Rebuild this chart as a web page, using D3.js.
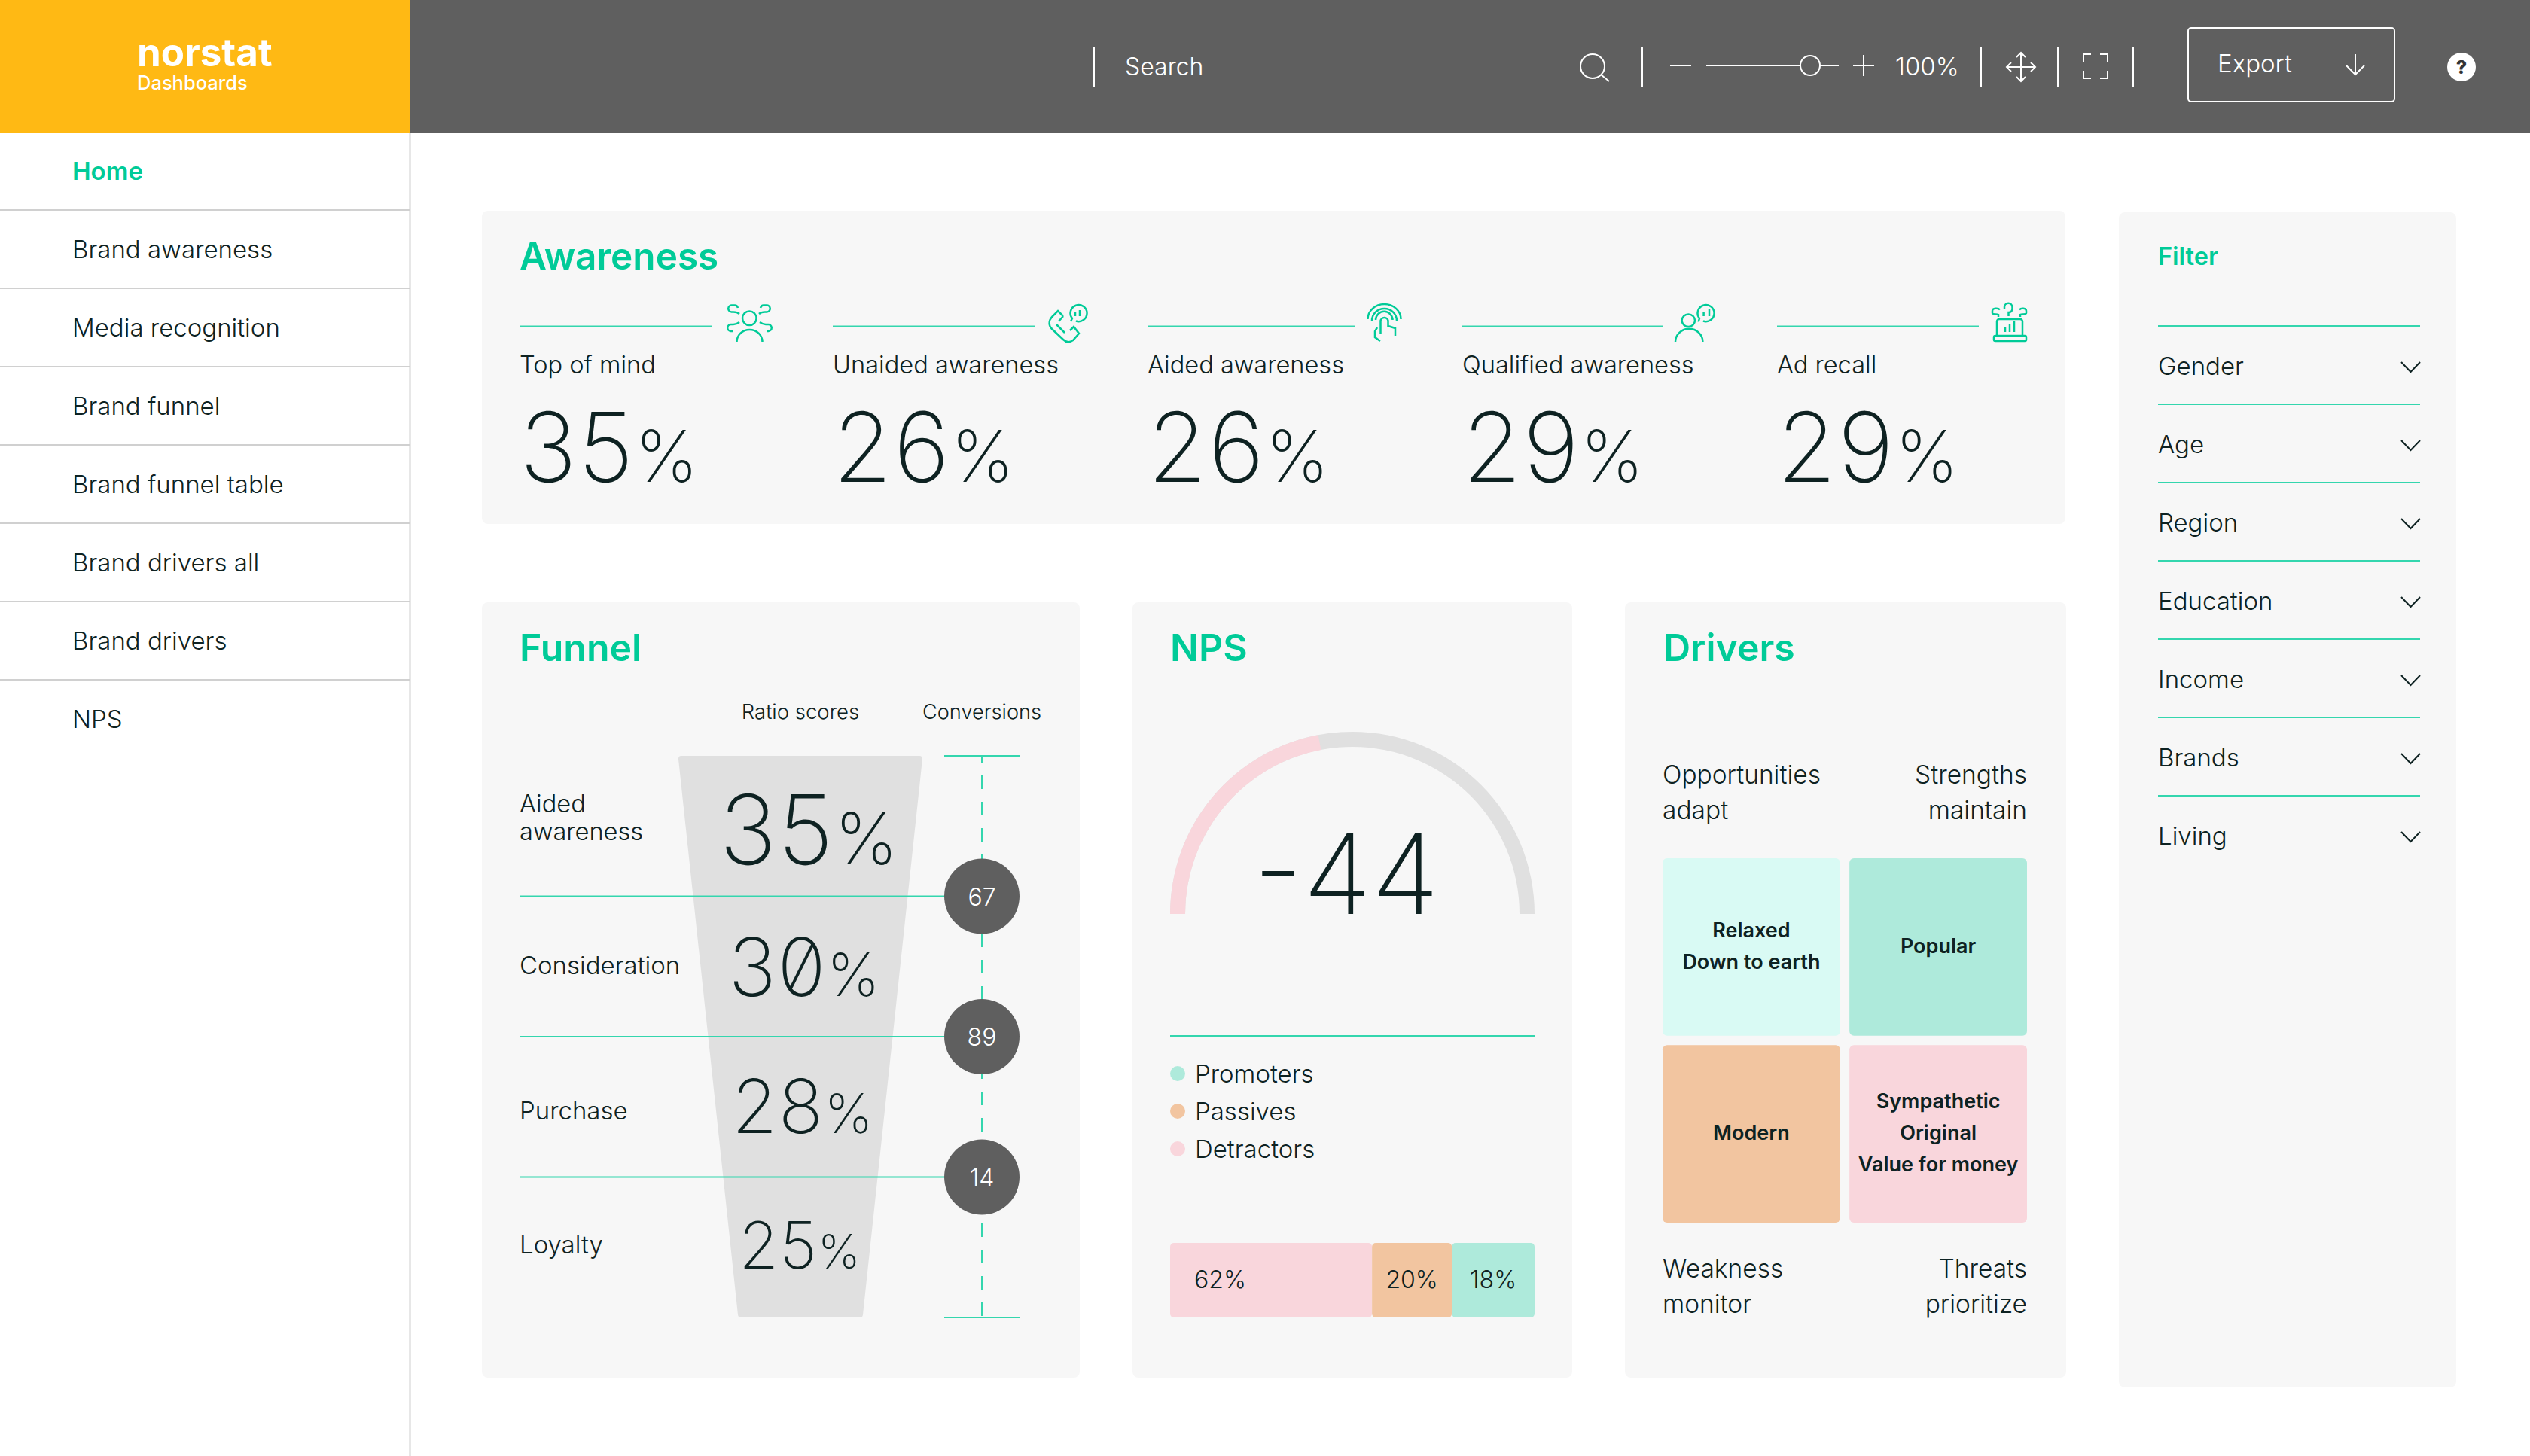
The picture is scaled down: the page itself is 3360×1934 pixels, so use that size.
<!DOCTYPE html>
<html>
<head>
<meta charset="utf-8">
<script src="https://cdn.jsdelivr.net/npm/d3@7"></script>
<style>
  body { margin: 0; background: #fff; }
  svg { display: block; }
  text { font-family: Inter, "Open Sans", sans-serif; fill: #0e2222; }
</style>
</head>
<body>
<script>
const width = 3360;
const height = 1934;

const menuItems = ['Home', 'Brand awareness', 'Media recognition', 'Brand funnel', 'Brand funnel table', 'Brand drivers all', 'Brand drivers', 'NPS'];
const awarenessLabels = ['Top of mind', 'Unaided awareness', 'Aided awareness', 'Qualified awareness', 'Ad recall'];
const awarenessValues = [35, 26, 26, 29, 29];
const funnelStages = ['Aided awareness', 'Consideration', 'Purchase', 'Loyalty'];
const funnelScores = [35, 30, 28, 25];
const conversions = [67, 89, 14];
const npsScore = -44;
const npsLegend = ['Promoters', 'Passives', 'Detractors'];
const npsBarValues = [62, 20, 18];
const npsBarShares = [55.4, 21.9, 22.7]; // the bar in the picture is not to scale with its labels
const driverCorners = [['Opportunities', 'adapt'], ['Strengths', 'maintain'], ['Weakness', 'monitor'], ['Threats', 'prioritize']];
const driverCells = [['Relaxed', 'Down to earth'], ['Popular'], ['Modern'], ['Sympathetic', 'Original', 'Value for money']];
const filterItems = ['Gender', 'Age', 'Region', 'Education', 'Income', 'Brands', 'Living'];

const green = '#00cb98';
const lineGreen = '#34d6ae';
const grey = '#5f5f5f';
const cardFill = '#f7f7f7';
const pink = '#f9d6dc';
const peach = '#f2c5a0';
const mint = '#aeeadb';
const paleMint = '#d9faf4';

const svg = d3.select('body').append('svg')
    .attr('width', width)
    .attr('height', height);

function label(parent, x, y, str, size, opts = {}) {
    return parent.append('text')
        .attr('x', x)
        .attr('y', y)
        .attr('font-size', size)
        .attr('font-weight', opts.weight || 300)
        .attr('text-anchor', opts.anchor || 'start')
        .style('fill', opts.fill || null)
        .text(str);
}

function hline(parent, x1, x2, y, color = lineGreen) {
    parent.append('line').attr('x1', x1).attr('x2', x2).attr('y1', y).attr('y2', y)
        .attr('stroke', color).attr('stroke-width', 2);
}

function card(x, y, x2, y2) {
    svg.append('rect').attr('x', x).attr('y', y).attr('width', x2 - x).attr('height', y2 - y)
        .attr('rx', 8).attr('fill', cardFill);
}

// big thin figures, the percent sign is set smaller than the digits
function bigValue(parent, x, y, value, size, anchor = 'start') {
    const t = parent.append('text')
        .attr('x', x)
        .attr('y', y)
        .attr('font-size', size)
        .attr('font-weight', 150)
        .attr('text-anchor', anchor)
        .style('font-feature-settings', '"zero"');
    t.append('tspan').attr('letter-spacing', size * 0.012).text(value);
    t.append('tspan').attr('font-size', size * 0.74).text('%');
    return t;
}

/* ---------- header ---------- */
svg.append('rect').attr('width', width).attr('height', 176).attr('fill', grey);
svg.append('rect').attr('width', 544).attr('height', 176).attr('fill', '#ffb914');
label(svg, 182, 88, 'norstat', 51, {weight: 700, fill: '#fff'});
label(svg, 182, 119, 'Dashboards', 25.5, {weight: 500, fill: '#fff'});

const head = svg.append('g').attr('fill', 'none').attr('stroke', '#fff').attr('stroke-width', 2);
[1453, 2181, 2631, 2733, 2833].forEach(x => {
    head.append('line').attr('x1', x).attr('x2', x).attr('y1', 62).attr('y2', 116);
});
label(svg, 1494, 100, 'Search', 32, {fill: '#fff'});
head.append('circle').attr('cx', 2115).attr('cy', 88).attr('r', 16);
head.append('path').attr('d', 'M2126 99L2137 108');
head.append('path').attr('d', 'M2218 87H2246M2266 87H2442M2461 87H2489M2475 73V101');
head.append('circle').attr('cx', 2404).attr('cy', 87).attr('r', 13).attr('fill', grey);
label(svg, 2517, 100, '100%', 33, {fill: '#fff'});
head.append('path').attr('d', 'M2684 70V108M2665 89H2703M2678 76L2684 70L2690 76M2678 102L2684 108L2690 102M2671 83L2665 89L2671 95M2697 83L2703 89L2697 95');
head.append('path').attr('d', 'M2767 82V72H2777M2789 72H2799V82M2767 94V104H2777M2789 104H2799V94');
head.append('rect').attr('x', 2906).attr('y', 37).attr('width', 274).attr('height', 98).attr('rx', 4);
label(svg, 2945, 96, 'Export', 33, {fill: '#fff'});
head.append('path').attr('d', 'M3128 72V99M3116 87L3128 99L3140 87');
svg.append('circle').attr('cx', 3269).attr('cy', 89).attr('r', 19).attr('fill', '#fff');
label(svg, 3269, 98, '?', 25, {weight: 800, anchor: 'middle', fill: '#333'});

/* ---------- side menu ---------- */
svg.append('line').attr('x1', 544.5).attr('x2', 544.5).attr('y1', 176).attr('y2', height)
    .attr('stroke', '#d0d0d0').attr('stroke-width', 2);
const menuY = d3.scaleBand().domain(menuItems).range([175, 175 + 104 * menuItems.length]);
menuItems.forEach((item, i) => {
    const isHome = i === 0;
    label(svg, 96, menuY(item) + 64, item, 33, {weight: isHome ? 600 : 300, fill: isHome ? green : null});
    if (i < menuItems.length - 1) hline(svg, 0, 544, menuY(item) + 104, '#d0d0d0');
});

/* ---------- awareness ---------- */
card(640, 280, 2743, 696);
label(svg, 690, 358, 'Awareness', 49.5, {weight: 600, fill: green});

const iconPaths = [
    ['M20 18.7a9.3 9.3 0 1 0 18.6 0a9.3 9.3 0 1 0 -18.6 0', 'M12.5 50A17 16 0 0 1 46.5 50',
     'M14 5Q13 1.5 10 1.5H6a4.5 4.5 0 0 0 -0.5 9H8Q13 10.5 16 13', 'M44 5Q45 1.5 48 1.5H52a4.5 4.5 0 0 1 .5 9H50Q45 10.5 42 13',
     'M16 24Q12 27 8 27H5a4.5 4.5 0 0 0 -0.5 9H7', 'M43 24Q47 27 51 27H54a4.5 4.5 0 0 1 .5 9H52'],
    ['M20 16L13 9L5 17C0 23 1 29 5 33L20 47C24 51 29 51 33 48L41 39L34 30L29 35', 'M20 16L14 23', 'M11 27L22 38',
     'M30 23L32 19a11 11 0 1 1 5 3.5', 'M36 11V16M42 8V16'],
    ['M0.5 20A22 20 0 0 1 44.5 20', 'M6 22A16.5 16 0 0 1 39 22', 'M11 21A11 11 0 0 1 33.5 21',
     'M17.5 39V23a5 5 0 0 1 10 0V29L37 32V42', 'M13 31L10 36V44L17 49'],
    ['M8.6 21.7a8.7 8.3 0 1 0 17.4 0a8.7 8.3 0 1 0 -17.4 0', 'M0 50A18 17 0 0 1 36.4 50',
     'M30.6 23.5L32 19a11 11 0 1 1 5 3.5', 'M37.6 11V16M45 6V16'],
    ['M7 42V23a3 3 0 0 1 3 -3H38a3 3 0 0 1 3 3V42', 'M5 42H44a2 2 0 0 1 2 2V47a2 2 0 0 1 -2 2H5a2 2 0 0 1 -2 -2V44a2 2 0 0 1 2 -2z',
     'M18 37V31M24 37V27M30 37V23', 'M11 7.5C9 5 1 5 1 9V12C1 14 7 13 9 14V17', 'M17 7V4a5 5 0 0 1 10.5 0V7a5 5 0 0 1 -5 4V16',
     'M37 7.5C39 5 46 5 46 9V12C46 14 40 13 38 14V17']
];
const columnX = [690, 1106, 1524, 1942, 2360];
const ruleEnds = [946, 1374, 1800, 2209, 2628];
const iconX = [966, 1392, 1816, 2225, 2645];
awarenessLabels.forEach((name, i) => {
    const x = columnX[i];
    hline(svg, x, ruleEnds[i], 433.5);
    const icon = svg.append('g').attr('transform', `translate(${iconX[i]},404)`)
        .attr('fill', 'none').attr('stroke', green).attr('stroke-width', 2.5);
    iconPaths[i].forEach(d => icon.append('path').attr('d', d));
    label(svg, x, 496, name, 32.6);
    bigValue(svg, x, 640, awarenessValues[i], 128);
});

/* ---------- funnel ---------- */
card(640, 800, 1434, 1830);
label(svg, 690, 878, 'Funnel', 50, {weight: 600, fill: green});
label(svg, 1063, 955, 'Ratio scores', 27.5, {anchor: 'middle'});
label(svg, 1304, 955, 'Conversions', 27.2, {anchor: 'middle'});

const scoreExtent = [d3.min(funnelScores), d3.max(funnelScores)];
const funnelY = d3.scaleBand().domain(funnelStages).range([1004, 1750]);
const funnelHalf = d3.scaleLinear().domain(scoreExtent).range([83, 162]);
const funnelFont = d3.scaleLinear().domain(scoreExtent).range([86, 128]);
const funnelBase = d3.scaleLinear().domain(scoreExtent).range([28, 51]);
const funnelCenter = d3.scaleLinear().domain(scoreExtent).range([1062, 1074]);
const funnelCx = 1063;
const topHalf = funnelHalf(funnelScores[0]) - 4;
const botHalf = funnelHalf(funnelScores[funnelScores.length - 1]) - 4;
const funnelLine = d3.line()(
    [[funnelCx - topHalf, 1008], [funnelCx + topHalf, 1008], [funnelCx + botHalf, 1746], [funnelCx - botHalf, 1746]]
) + 'Z';
svg.append('path').attr('d', funnelLine).attr('fill', '#e0e0e0')
    .attr('stroke', '#e0e0e0').attr('stroke-width', 8).attr('stroke-linejoin', 'round');

const convX = 1304;
svg.append('line').attr('x1', convX).attr('x2', convX).attr('y1', 1004).attr('y2', 1750)
    .attr('stroke', lineGreen).attr('stroke-width', 2)
    .attr('stroke-dasharray', '18 17').attr('stroke-dashoffset', 9);
hline(svg, convX - 50, convX + 50, 1004);
hline(svg, convX - 50, convX + 50, 1750);

const stageLabelY = [1079, 1294, 1487, 1665];
funnelStages.forEach((stage, i) => {
    const top = funnelY(stage);
    const mid = top + funnelY.bandwidth() / 2;
    const score = funnelScores[i];
    if (stage === 'Aided awareness') {
        label(svg, 690, stageLabelY[i], 'Aided', 32.6);
        label(svg, 690, stageLabelY[i] + 37, 'awareness', 32.6);
    } else {
        label(svg, 690, stageLabelY[i], stage, 33);
    }
    bigValue(svg, funnelCenter(score), mid + funnelBase(score), score, funnelFont(score), 'middle');
    if (i < conversions.length) {
        const y = top + funnelY.bandwidth();
        hline(svg, 690, convX, y);
        svg.append('circle').attr('cx', convX).attr('cy', y).attr('r', 50).attr('fill', grey);
        label(svg, convX, y + 12, conversions[i], 32, {anchor: 'middle', fill: '#fff'});
    }
});

/* ---------- nps ---------- */
card(1504, 800, 2088, 1830);
label(svg, 1554, 878, 'NPS', 50, {weight: 600, fill: green});

const gaugeAngle = d3.scaleLinear().domain([0, 100]).range([-Math.PI / 2, Math.PI / 2]);
const gaugeArc = d3.arc().innerRadius(222).outerRadius(242);
const gauge = svg.append('g').attr('transform', 'translate(1796,1214)');
gauge.append('path').attr('fill', '#e0e0e0')
    .attr('d', gaugeArc({startAngle: gaugeAngle(0), endAngle: gaugeAngle(100)}));
gauge.append('path').attr('fill', pink)
    .attr('d', gaugeArc({startAngle: gaugeAngle(0), endAngle: gaugeAngle(Math.abs(npsScore))}));
label(svg, 1788, 1214, npsScore, 148, {weight: 150, anchor: 'middle'});

hline(svg, 1554, 2038, 1376);
const legendColors = [mint, peach, pink];
const legendY = d3.scalePoint().domain(npsLegend).range([1426, 1526]);
npsLegend.forEach((name, i) => {
    svg.append('circle').attr('cx', 1564).attr('cy', legendY(name)).attr('r', 10).attr('fill', legendColors[i]);
    label(svg, 1587, legendY(name) + 12, name, 33);
});

const barX = d3.scaleLinear().domain([0, 100]).range([1554, 2038]);
const barColors = [pink, peach, mint];
let barAcc = 0;
npsBarValues.forEach((v, i) => {
    const x0 = barX(barAcc);
    barAcc += npsBarShares[i];
    const x1 = barX(barAcc);
    svg.append('rect').attr('x', x0).attr('y', 1651).attr('width', x1 - x0).attr('height', 99)
        .attr('rx', 5).attr('fill', barColors[i]);
    if (i === 0) label(svg, x0 + 32, 1711, v + '%', 32);
    else label(svg, (x0 + x1) / 2, 1711, v + '%', 32, {anchor: 'middle'});
});

/* ---------- drivers ---------- */
card(2158, 800, 2744, 1830);
label(svg, 2209, 878, 'Drivers', 50, {weight: 600, fill: green});

const driverX = d3.scaleBand().domain([0, 1]).range([2208, 2692]).paddingInner(12 / 242);
const driverY = d3.scaleBand().domain([0, 1]).range([1140, 1624]).paddingInner(12 / 242);
const cellColors = [paleMint, mint, peach, pink];
driverCells.forEach((lines, i) => {
    const x = driverX(i % 2);
    const y = driverY(Math.floor(i / 2));
    svg.append('rect').attr('x', x).attr('y', y)
        .attr('width', driverX.bandwidth()).attr('height', driverY.bandwidth())
        .attr('rx', 6).attr('fill', cellColors[i]);
    const cx = x + driverX.bandwidth() / 2;
    const startY = y + driverY.bandwidth() / 2 - (lines.length - 1) * 21 + 8;
    lines.forEach((line, j) => label(svg, cx, startY + j * 42, line, 27, {weight: 600, anchor: 'middle'}));
});
const cornerY = [1041, 1041, 1697, 1697];
driverCorners.forEach((lines, i) => {
    const right = i % 2 === 1;
    lines.forEach((line, j) => label(svg, right ? 2692 : 2208, cornerY[i] + j * 47, line, 33.5, {anchor: right ? 'end' : 'start'}));
});

/* ---------- filter ---------- */
card(2814, 282, 3262, 1843);
label(svg, 2866, 352, 'Filter', 32.5, {weight: 600, fill: green});
const filterY = d3.scaleBand().domain(filterItems).range([433, 433 + 104 * filterItems.length]);
filterItems.forEach((item, i) => {
    const y = filterY(item);
    hline(svg, 2866, 3214, y);
    label(svg, 2866, y + 65, item, 33);
    svg.append('path').attr('d', `M${3189} ${y + 48}L${3201.5} ${y + 61}L${3214} ${y + 48}`)
        .attr('fill', 'none').attr('stroke', '#0e2222').attr('stroke-width', 2);
});
</script>
</body>
</html>
